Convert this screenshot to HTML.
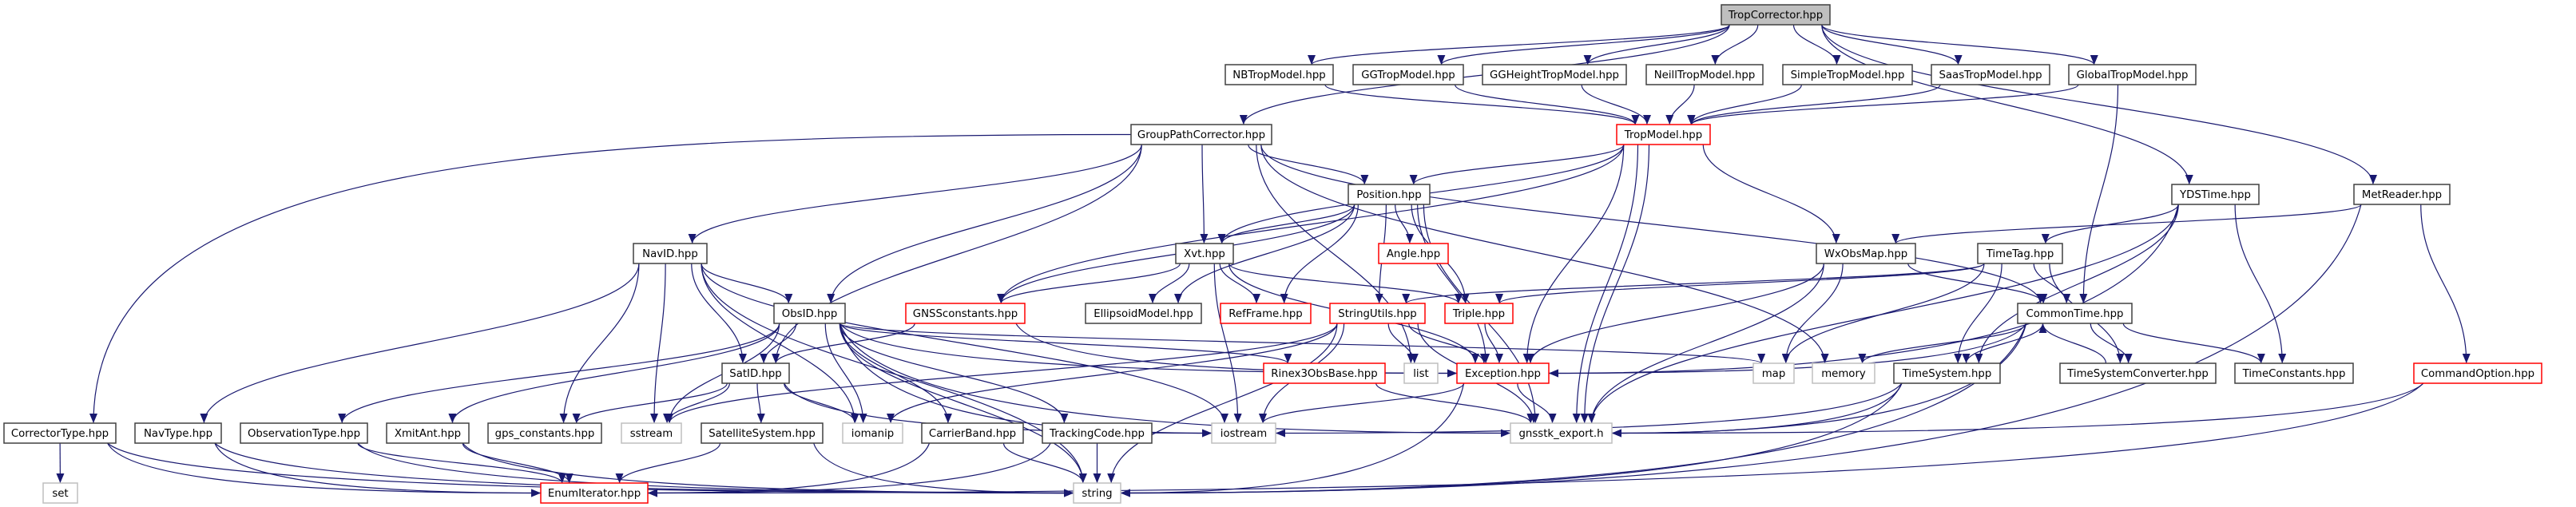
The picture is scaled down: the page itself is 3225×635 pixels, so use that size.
<!DOCTYPE html>
<html><head><meta charset="utf-8">
<style>
html,body{margin:0;padding:0;background:#fff;}
svg{display:block;}
text{font-family:"DejaVu Sans","Liberation Sans",sans-serif;font-size:13.3px;fill:#000;}
</style></head>
<body>
<svg id="g" width="3225" height="635" viewBox="0 0 3225 635" xmlns="http://www.w3.org/2000/svg">
<defs>
<marker id="ah" markerWidth="13" markerHeight="10" refX="12" refY="5" orient="auto" markerUnits="userSpaceOnUse">
<path d="M0,0 L12,5 L0,10 Z" fill="#191970"/>
</marker>
</defs>
<g id="edges" fill="none" stroke="#191970" stroke-width="1.2"></g>
<g id="nodes">
<rect x="2155" y="6" width="136" height="25" fill="#bfbfbf" stroke="#404040" stroke-width="1.5"/><text x="2223" y="23" text-anchor="middle">TropCorrector.hpp</text>
<rect x="1534" y="81" width="135" height="25" fill="#fff" stroke="#404040" stroke-width="1.5"/><text x="1601.5" y="98" text-anchor="middle">NBTropModel.hpp</text>
<rect x="1694" y="81" width="138" height="25" fill="#fff" stroke="#404040" stroke-width="1.5"/><text x="1763" y="98" text-anchor="middle">GGTropModel.hpp</text>
<rect x="1856" y="81" width="180" height="25" fill="#fff" stroke="#404040" stroke-width="1.5"/><text x="1946" y="98" text-anchor="middle">GGHeightTropModel.hpp</text>
<rect x="2061" y="81" width="146" height="25" fill="#fff" stroke="#404040" stroke-width="1.5"/><text x="2134" y="98" text-anchor="middle">NeillTropModel.hpp</text>
<rect x="2232" y="81" width="162" height="25" fill="#fff" stroke="#404040" stroke-width="1.5"/><text x="2313" y="98" text-anchor="middle">SimpleTropModel.hpp</text>
<rect x="2418" y="81" width="148" height="25" fill="#fff" stroke="#404040" stroke-width="1.5"/><text x="2492" y="98" text-anchor="middle">SaasTropModel.hpp</text>
<rect x="2590" y="81" width="159" height="25" fill="#fff" stroke="#404040" stroke-width="1.5"/><text x="2669.5" y="98" text-anchor="middle">GlobalTropModel.hpp</text>
<rect x="1416" y="156" width="176" height="25" fill="#fff" stroke="#404040" stroke-width="1.5"/><text x="1504" y="173" text-anchor="middle">GroupPathCorrector.hpp</text>
<rect x="2024" y="156" width="117" height="25" fill="#fff" stroke="#ff0000" stroke-width="1.5"/><text x="2082.5" y="173" text-anchor="middle">TropModel.hpp</text>
<rect x="1688" y="231" width="102" height="25" fill="#fff" stroke="#404040" stroke-width="1.5"/><text x="1739" y="248" text-anchor="middle">Position.hpp</text>
<rect x="2719" y="231" width="109" height="25" fill="#fff" stroke="#404040" stroke-width="1.5"/><text x="2773.5" y="248" text-anchor="middle">YDSTime.hpp</text>
<rect x="2947" y="231" width="120" height="25" fill="#fff" stroke="#404040" stroke-width="1.5"/><text x="3007" y="248" text-anchor="middle">MetReader.hpp</text>
<rect x="793" y="305" width="92" height="25" fill="#fff" stroke="#404040" stroke-width="1.5"/><text x="839" y="322" text-anchor="middle">NavID.hpp</text>
<rect x="1472" y="305" width="72" height="25" fill="#fff" stroke="#404040" stroke-width="1.5"/><text x="1508" y="322" text-anchor="middle">Xvt.hpp</text>
<rect x="1726" y="305" width="87" height="25" fill="#fff" stroke="#ff0000" stroke-width="1.5"/><text x="1769.5" y="322" text-anchor="middle">Angle.hpp</text>
<rect x="2274" y="305" width="124" height="25" fill="#fff" stroke="#404040" stroke-width="1.5"/><text x="2336" y="322" text-anchor="middle">WxObsMap.hpp</text>
<rect x="2476" y="305" width="106" height="25" fill="#fff" stroke="#404040" stroke-width="1.5"/><text x="2529" y="322" text-anchor="middle">TimeTag.hpp</text>
<rect x="969" y="380" width="89" height="25" fill="#fff" stroke="#404040" stroke-width="1.5"/><text x="1013.5" y="397" text-anchor="middle">ObsID.hpp</text>
<rect x="1134" y="380" width="149" height="25" fill="#fff" stroke="#ff0000" stroke-width="1.5"/><text x="1208.5" y="397" text-anchor="middle">GNSSconstants.hpp</text>
<rect x="1359" y="380" width="145" height="25" fill="#fff" stroke="#404040" stroke-width="1.5"/><text x="1431.5" y="397" text-anchor="middle">EllipsoidModel.hpp</text>
<rect x="1528" y="380" width="113" height="25" fill="#fff" stroke="#ff0000" stroke-width="1.5"/><text x="1584.5" y="397" text-anchor="middle">RefFrame.hpp</text>
<rect x="1665" y="380" width="119" height="25" fill="#fff" stroke="#ff0000" stroke-width="1.5"/><text x="1724.5" y="397" text-anchor="middle">StringUtils.hpp</text>
<rect x="1809" y="380" width="85" height="25" fill="#fff" stroke="#ff0000" stroke-width="1.5"/><text x="1851.5" y="397" text-anchor="middle">Triple.hpp</text>
<rect x="2526" y="380" width="143" height="25" fill="#fff" stroke="#404040" stroke-width="1.5"/><text x="2597.5" y="397" text-anchor="middle">CommonTime.hpp</text>
<rect x="904" y="455" width="84" height="25" fill="#fff" stroke="#404040" stroke-width="1.5"/><text x="946" y="472" text-anchor="middle">SatID.hpp</text>
<rect x="1582" y="455" width="152" height="25" fill="#fff" stroke="#ff0000" stroke-width="1.5"/><text x="1658" y="472" text-anchor="middle">Rinex3ObsBase.hpp</text>
<rect x="1758" y="455" width="42" height="25" fill="#fff" stroke="#bfbfbf" stroke-width="1.5"/><text x="1779" y="472" text-anchor="middle">list</text>
<rect x="1824" y="455" width="115" height="25" fill="#fff" stroke="#ff0000" stroke-width="1.5"/><text x="1881.5" y="472" text-anchor="middle">Exception.hpp</text>
<rect x="2195" y="455" width="51" height="25" fill="#fff" stroke="#bfbfbf" stroke-width="1.5"/><text x="2220.5" y="472" text-anchor="middle">map</text>
<rect x="2269" y="455" width="78" height="25" fill="#fff" stroke="#bfbfbf" stroke-width="1.5"/><text x="2308" y="472" text-anchor="middle">memory</text>
<rect x="2371" y="455" width="133" height="25" fill="#fff" stroke="#404040" stroke-width="1.5"/><text x="2437.5" y="472" text-anchor="middle">TimeSystem.hpp</text>
<rect x="2579" y="455" width="195" height="25" fill="#fff" stroke="#404040" stroke-width="1.5"/><text x="2676.5" y="472" text-anchor="middle">TimeSystemConverter.hpp</text>
<rect x="2798" y="455" width="148" height="25" fill="#fff" stroke="#404040" stroke-width="1.5"/><text x="2872" y="472" text-anchor="middle">TimeConstants.hpp</text>
<rect x="3022" y="455" width="160" height="25" fill="#fff" stroke="#ff0000" stroke-width="1.5"/><text x="3102" y="472" text-anchor="middle">CommandOption.hpp</text>
<rect x="5" y="530" width="140" height="25" fill="#fff" stroke="#404040" stroke-width="1.5"/><text x="75" y="547" text-anchor="middle">CorrectorType.hpp</text>
<rect x="169" y="530" width="108" height="25" fill="#fff" stroke="#404040" stroke-width="1.5"/><text x="223" y="547" text-anchor="middle">NavType.hpp</text>
<rect x="301" y="530" width="159" height="25" fill="#fff" stroke="#404040" stroke-width="1.5"/><text x="380.5" y="547" text-anchor="middle">ObservationType.hpp</text>
<rect x="484" y="530" width="103" height="25" fill="#fff" stroke="#404040" stroke-width="1.5"/><text x="535.5" y="547" text-anchor="middle">XmitAnt.hpp</text>
<rect x="611" y="530" width="142" height="25" fill="#fff" stroke="#404040" stroke-width="1.5"/><text x="682" y="547" text-anchor="middle">gps_constants.hpp</text>
<rect x="778" y="530" width="75" height="25" fill="#fff" stroke="#bfbfbf" stroke-width="1.5"/><text x="815.5" y="547" text-anchor="middle">sstream</text>
<rect x="878" y="530" width="152" height="25" fill="#fff" stroke="#404040" stroke-width="1.5"/><text x="954" y="547" text-anchor="middle">SatelliteSystem.hpp</text>
<rect x="1055" y="530" width="75" height="25" fill="#fff" stroke="#bfbfbf" stroke-width="1.5"/><text x="1092.5" y="547" text-anchor="middle">iomanip</text>
<rect x="1154" y="530" width="127" height="25" fill="#fff" stroke="#404040" stroke-width="1.5"/><text x="1217.5" y="547" text-anchor="middle">CarrierBand.hpp</text>
<rect x="1305" y="530" width="137" height="25" fill="#fff" stroke="#404040" stroke-width="1.5"/><text x="1373.5" y="547" text-anchor="middle">TrackingCode.hpp</text>
<rect x="1517" y="530" width="80" height="25" fill="#fff" stroke="#bfbfbf" stroke-width="1.5"/><text x="1557" y="547" text-anchor="middle">iostream</text>
<rect x="1891" y="530" width="127" height="25" fill="#fff" stroke="#bfbfbf" stroke-width="1.5"/><text x="1954.5" y="547" text-anchor="middle">gnsstk_export.h</text>
<rect x="54" y="605" width="43" height="25" fill="#fff" stroke="#bfbfbf" stroke-width="1.5"/><text x="75.5" y="622" text-anchor="middle">set</text>
<rect x="677" y="605" width="134" height="25" fill="#fff" stroke="#ff0000" stroke-width="1.5"/><text x="744" y="622" text-anchor="middle">EnumIterator.hpp</text>
<rect x="1344" y="605" width="59" height="25" fill="#fff" stroke="#bfbfbf" stroke-width="1.5"/><text x="1373.5" y="622" text-anchor="middle">string</text>
</g>
</svg>
<script>
(function(){
var R=[6,81,156,231,305,380,455,530,605],H=25;
var N={
TC:[2155,2291,0],NB:[1534,1669,1],GG:[1694,1832,1],GGH:[1856,2036,1],NE:[2061,2207,1],SI:[2232,2394,1],SA:[2418,2566,1],GL:[2590,2749,1],
GP:[1416,1592,2],TM:[2024,2141,2],PO:[1688,1790,3],YD:[2719,2828,3],MR:[2947,3067,3],
NI:[793,885,4],XV:[1472,1544,4],AN:[1726,1813,4],WX:[2274,2398,4],TT:[2476,2582,4],
OI:[969,1058,5],GC:[1134,1283,5],EM:[1359,1504,5],RF:[1528,1641,5],SU:[1665,1784,5],TR:[1809,1894,5],CT:[2526,2669,5],
SID:[904,988,6],RX:[1582,1734,6],LI:[1758,1800,6],EX:[1824,1939,6],MA:[2195,2246,6],ME:[2269,2347,6],TS:[2371,2504,6],TSC:[2579,2774,6],TCN:[2798,2946,6],CO:[3022,3182,6],
CR:[5,145,7],NT:[169,277,7],OT:[301,460,7],XA:[484,587,7],GPS:[611,753,7],SS:[778,853,7],SY:[878,1030,7],IO:[1055,1130,7],CB:[1154,1281,7],TK:[1305,1442,7],IS:[1517,1597,7],GE:[1891,2018,7],
SET:[54,97,8],EI:[677,811,8],ST:[1344,1403,8]};
var E=[
['TC','NB'],['TC','GG'],['TC','GGH'],['TC','NE'],['TC','SI'],['TC','SA'],['TC','GL'],['TC','GP'],['TC','YD'],['TC','MR'],
['NB','TM'],['GG','TM'],['GGH','TM'],['NE','TM'],['SI','TM'],['SA','TM'],['GL','TM'],['GL','CT'],
['GP','CR'],['GP','NI'],['GP','OI'],['GP','SID'],['GP','XV'],['GP','PO'],['GP','CT'],['GP','ME'],['GP','LI'],
['TM','PO'],['TM','XV'],['TM','GC'],['TM','WX'],['TM','EX'],['TM','GE'],['TM','GE'],
['PO','XV'],['PO','GC'],['PO','AN'],['PO','SU'],['PO','TR'],['PO','EX'],['PO','GE'],['PO','EM'],['PO','RF'],
['XV','EM'],['XV','RF'],['XV','GC'],['XV','IS'],['XV','TR'],['XV','EX'],
['NI','NT'],['NI','OI'],['NI','SID'],['NI','SS'],['NI','IO'],['NI','GPS'],['NI','IS'],['NI','ST'],
['OI','SID'],['OI','SS'],['OI','IO'],['OI','OT'],['OI','XA'],['OI','CB'],['OI','TK'],['OI','IS'],['OI','ST'],['OI','MA'],['OI','RX'],['OI','EX'],['OI','GE'],
['GC','SID'],['GC','EX'],
['SID','GPS'],['SID','SS'],['SID','SY'],['SID','IO'],['SID','IS'],
['SU','LI'],['SU','EX'],['SU','SS'],['SU','IO'],['SU','IS'],['SU','ST'],['SU','GE'],
['TR','EX'],['RX','GE'],['EX','IS'],['EX','ST'],['EX','GE'],
['WX','CT'],['WX','MA'],['WX','EX'],['WX','GE'],
['YD','TT'],['YD','TS'],['YD','TCN'],['YD','EX'],['YD','GE'],
['MR','WX'],['MR','CO'],['MR','ST'],
['TT','CT'],['TT','TS'],['TT','TSC'],['TT','TR'],['TT','MA'],['TT','SU'],
['CT','TS'],['CT','TSC'],['CT','TCN'],['CT','EX'],['CT','ME'],['CT','GE'],['CT','ST'],
['TSC','CT'],['TS','IS'],['TS','ST'],['TS','GE'],['CO','GE'],['CO','EI'],
['CR','SET'],['CR','EI'],['CR','ST'],['NT','EI'],['NT','ST'],['OT','EI'],['OT','ST'],['XA','EI'],['XA','ST'],
['CB','EI'],['CB','ST'],['TK','EI'],['TK','ST'],['SY','EI'],['SY','ST']];
var SIDE={GE:1,ST:1,EI:1,IS:1,EX:1};
var g=document.getElementById('edges'),seen={};
E.forEach(function(e){
 var s=N[e[0]],t=N[e[1]];
 var k=e[0]+e[1];var rep=seen[k]=(seen[k]||0)+1;
 var sc=(s[0]+s[1])/2,tc=(t[0]+t[1])/2,sw=(s[1]-s[0])/2,tw=(t[1]-t[0])/2;
 var d;
 if(t[2]>s[2]){
  var sx,sy,tx,ty,c1x,c1y,c2x,c2y;
  var vg=R[t[2]]-(R[s[2]]+H);
  var right=tc>sc;
  var hgT=right? t[0]-sc : sc-t[1];
  if(e[0]=='GP'&&e[1]=='CR'){sx=s[0];sy=R[s[2]]+H/2;}
  else{sx=sc+Math.max(-sw*0.85,Math.min(sw*0.85,(tc-sc)*0.25))+(rep>1?14:0);sy=R[s[2]]+H;}
  if(SIDE[e[1]]&&hgT>3.5*vg&&hgT>350){
   tx=right?t[0]:t[1];ty=R[t[2]]+H/2+(rep>1?4:0);
   var dx=tx-sx;
   c1x=sx+dx*0.05;c1y=sy+(ty-sy)*0.8;
   c2x=tx-dx*0.5;c2y=ty;
  } else {
   tx=tc+Math.max(-tw*0.6,Math.min(tw*0.6,(sc-tc)*0.15))+(rep>1?10:0);ty=R[t[2]];
   if(sy===R[s[2]]+H/2){c1x=sx-(sx-tx)*0.6;c1y=sy;c2x=tx;c2y=sy+40;}
   else{c1x=sx;c1y=sy+vg*0.45;c2x=tx;c2y=ty-vg*0.45;}
  }
  d='M'+sx+','+sy+' C'+c1x+','+c1y+' '+c2x+','+c2y+' '+tx+','+ty;
 } else {
  var sy=R[s[2]],ty=R[t[2]]+H,sx=sc-40,tx=tc-40,dy=sy-ty;
  d='M'+sx+','+sy+' C'+sx+','+(sy-dy*0.45)+' '+tx+','+(ty+dy*0.45)+' '+tx+','+ty;
 }
 var p=document.createElementNS('http://www.w3.org/2000/svg','path');
 p.setAttribute('d',d);p.setAttribute('marker-end','url(#ah)');g.appendChild(p);
});
})();
</script>
</body></html>
